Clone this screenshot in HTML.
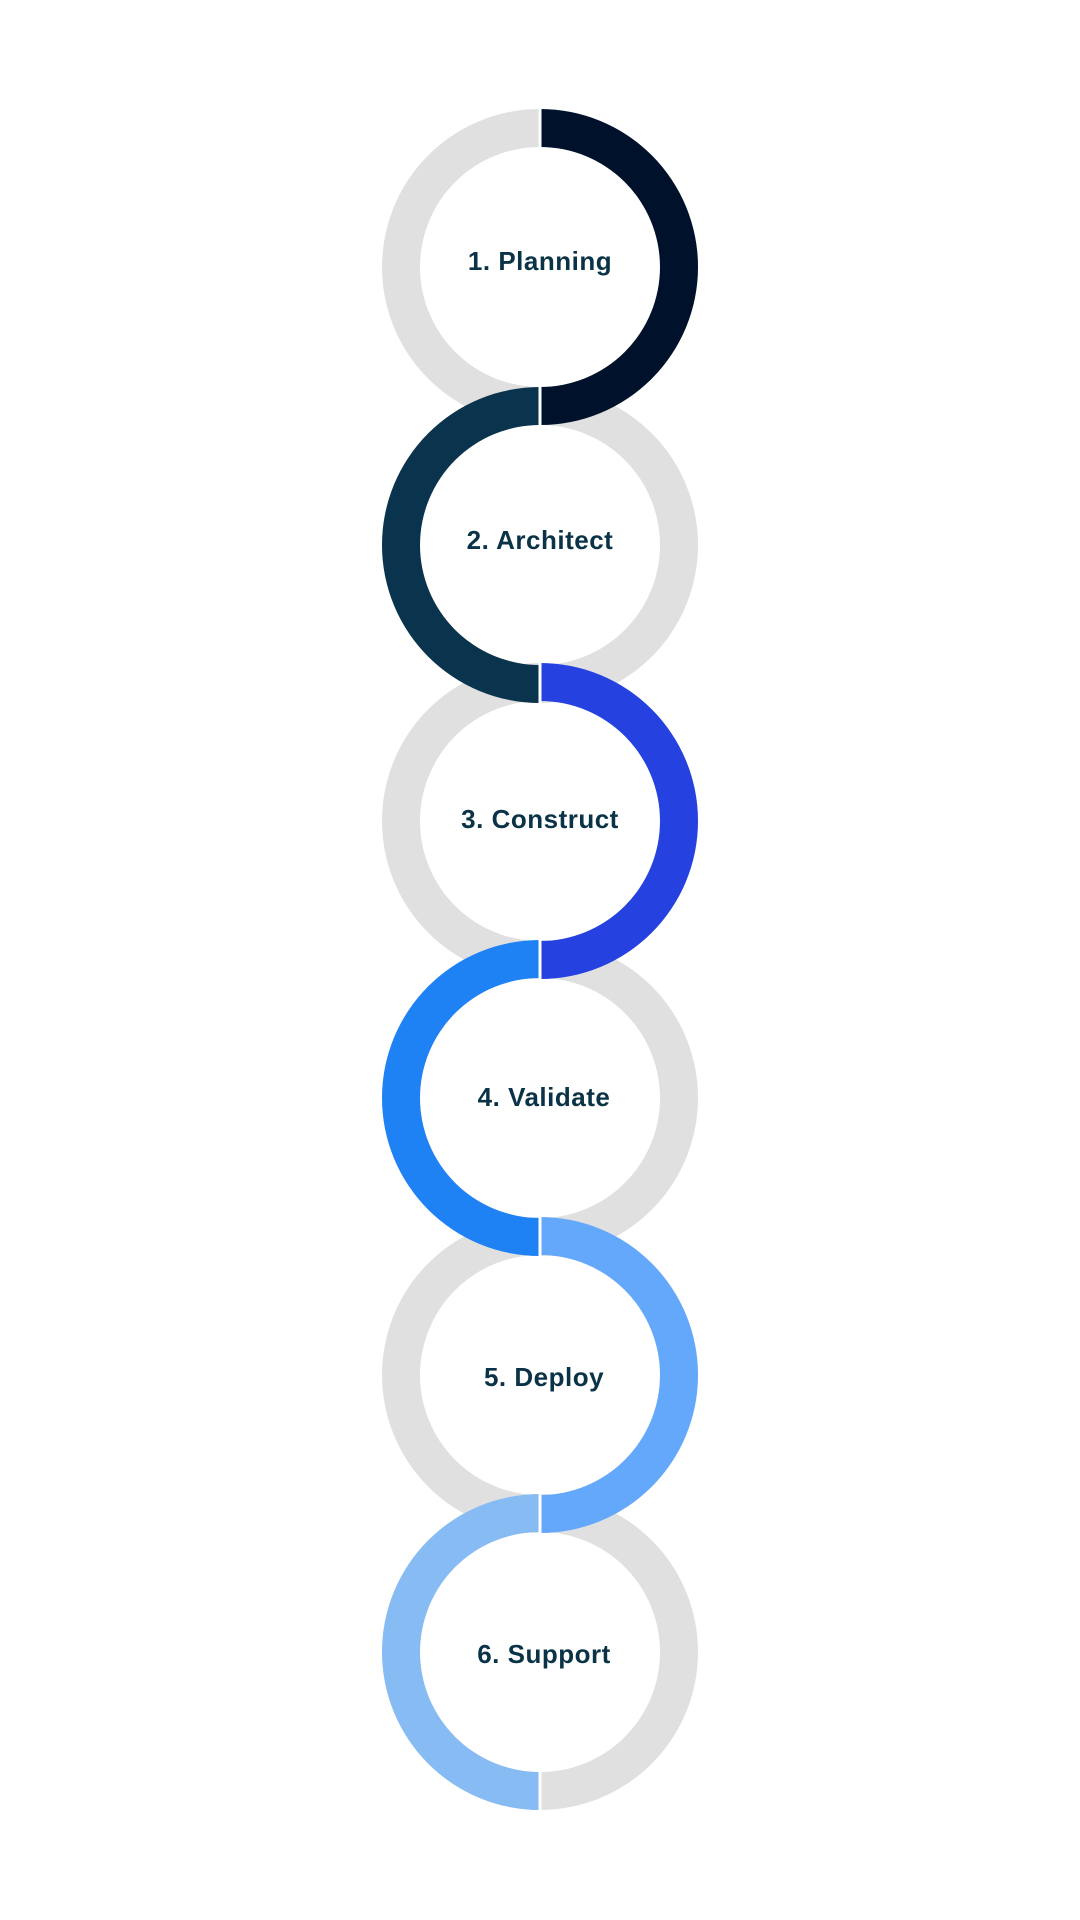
<!DOCTYPE html>
<html><head><meta charset="utf-8"><style>
html,body{margin:0;padding:0;background:#fff;width:1080px;height:1920px;overflow:hidden}
text{font-family:"Liberation Sans",sans-serif;font-weight:bold;font-size:26px;letter-spacing:0.5px;fill:#0b3347;text-anchor:middle}
</style></head><body>
<svg width="1080" height="1920" viewBox="0 0 1080 1920" xmlns="http://www.w3.org/2000/svg">
<g fill="none" stroke="#e0e0e0" stroke-width="38">
<circle cx="540" cy="267" r="139"/>
<circle cx="540" cy="545" r="139"/>
<circle cx="540" cy="821" r="139"/>
<circle cx="540" cy="1098" r="139"/>
<circle cx="540" cy="1375" r="139"/>
<circle cx="540" cy="1652" r="139"/>
</g>
<path fill="#00112b" d="M540,109 A158,158 0 0 1 540,425 L540,387 A120,120 0 0 0 540,147 Z"/>
<path fill="#0a344d" d="M540,387 A158,158 0 0 0 540,703 L540,665 A120,120 0 0 1 540,425 Z"/>
<path fill="#2541e0" d="M540,663 A158,158 0 0 1 540,979 L540,941 A120,120 0 0 0 540,701 Z"/>
<path fill="#1e82f5" d="M540,940 A158,158 0 0 0 540,1256 L540,1218 A120,120 0 0 1 540,978 Z"/>
<path fill="#64a8fc" d="M540,1217 A158,158 0 0 1 540,1533 L540,1495 A120,120 0 0 0 540,1255 Z"/>
<path fill="#87bbf4" d="M540,1494 A158,158 0 0 0 540,1810 L540,1772 A120,120 0 0 1 540,1532 Z"/>
<g stroke="#fff" stroke-width="3">
<line x1="540" y1="105" x2="540" y2="150"/>
<line x1="540" y1="383" x2="540" y2="430"/>
<line x1="540" y1="659" x2="540" y2="706"/>
<line x1="540" y1="936" x2="540" y2="983"/>
<line x1="540" y1="1213" x2="540" y2="1260"/>
<line x1="540" y1="1490" x2="540" y2="1536"/>
<line x1="540" y1="1768" x2="540" y2="1814"/>
</g>
<text x="540" y="270">1. Planning</text>
<text x="540" y="549">2. Architect</text>
<text x="540" y="828">3. Construct</text>
<text x="544" y="1106">4. Validate</text>
<text x="544" y="1386">5. Deploy</text>
<text x="544" y="1663">6. Support</text>
</svg>
</body></html>
